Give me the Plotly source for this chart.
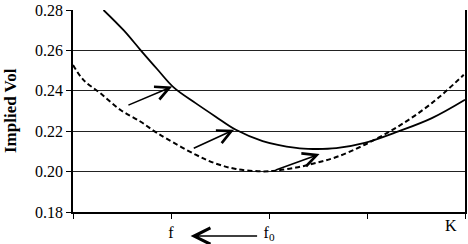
import plotly.graph_objects as go

# Solid smile (after the move)
solid_x = [0.311, 0.516, 0.687, 0.858, 1.027, 1.251, 1.456, 1.662, 1.935, 2.277, 2.448, 2.687, 2.977, 3.320, 3.662, 4.0]
solid_y = [0.2800, 0.2700, 0.2603, 0.2508, 0.2417, 0.2339, 0.2272, 0.2207, 0.2151, 0.2117, 0.2112, 0.2116, 0.2142, 0.2199, 0.2265, 0.2356]

# Dashed smile (initial)
dash_x = [0.0, 0.106, 0.277, 0.482, 0.687, 0.824, 0.944, 1.251, 1.456, 1.662, 1.935, 2.072, 2.277, 2.482, 2.687, 2.977, 3.320, 3.662, 3.987]
dash_y = [0.2528, 0.2454, 0.2389, 0.2306, 0.2248, 0.2202, 0.2166, 0.2084, 0.2040, 0.2013, 0.2001, 0.2005, 0.2020, 0.2043, 0.2072, 0.2133, 0.2224, 0.2339, 0.2479]

# Arrows (tail -> head) in data units
arr_tail_x = [0.55, 1.217, 2.054]
arr_tail_y = [0.2326, 0.2112, 0.2005]
arr_head_x = [1.012, 1.644, 2.516]
arr_head_y = [0.2421, 0.2207, 0.2087]

y_ticks = [0.18, 0.20, 0.22, 0.24, 0.26, 0.28]
y_ticktext = ["0.18", "0.20", "0.22", "0.24", "0.26", "0.28"]
x_ticks = [0, 1, 2, 3, 4]
x_ticktext = ["", "f", "f<sub>0</sub>", "", ""]
y_title = "<b>Implied Vol</b>"

font = "Liberation Serif"

fig = go.Figure()
fig.add_trace(go.Scatter(x=dash_x, y=dash_y, mode="lines", line_shape="spline",
                         line=dict(color="black", width=2, dash="5px,3px"), hoverinfo="skip"))
fig.add_trace(go.Scatter(x=solid_x, y=solid_y, mode="lines", line_shape="spline",
                         line=dict(color="black", width=1.8), hoverinfo="skip"))

for tx, ty, hx, hy in zip(arr_tail_x, arr_tail_y, arr_head_x, arr_head_y):
    fig.add_annotation(x=hx, y=hy, ax=tx, ay=ty, xref="x", yref="y", axref="x", ayref="y",
                       showarrow=True, arrowhead=5, arrowsize=1.7, arrowwidth=1.6,
                       arrowcolor="black", text="")

# f0 -> f arrow below the axis
fig.add_annotation(x=1.2, y=-0.119, ax=68, ay=0, xref="x", yref="paper",
                   axref="pixel", ayref="pixel", showarrow=True, arrowhead=5, arrowsize=2.0,
                   arrowwidth=1.6, arrowcolor="black", text="")
fig.add_annotation(x=3.86, y=-0.119, xref="x", yref="paper", text="K", showarrow=False,
                   font=dict(family=font, size=16, color="black"))

# y-axis title placed as rotated annotation
fig.add_annotation(x=0, y=0.5, xref="paper", yref="paper", xshift=-63, text=y_title,
                   textangle=-90, showarrow=False, xanchor="center", yanchor="middle",
                   font=dict(family=font, size=17, color="black"))

fig.update_layout(
    width=468, height=244,
    margin=dict(l=73, r=3, t=10, b=32),
    paper_bgcolor="white", plot_bgcolor="white",
    showlegend=False,
    font=dict(family=font, size=16, color="black"),
    xaxis=dict(range=[0, 4], tickvals=x_ticks, ticktext=x_ticktext, showgrid=False,
               showline=True, linecolor="black", linewidth=1.5, ticks="outside",
               ticklen=5, tickcolor="black", tickwidth=1.2, zeroline=False,
               automargin=False,
               tickfont=dict(family=font, size=16, color="black")),
    yaxis=dict(range=[0.18, 0.28], tickvals=y_ticks, ticktext=y_ticktext,
               showgrid=True, gridcolor="#222", gridwidth=1, showline=True,
               linecolor="black", linewidth=1.5, mirror=True, ticks="outside",
               ticklen=5, tickcolor="black", tickwidth=1.2, zeroline=False,
               automargin=False,
               tickfont=dict(family=font, size=16, color="black")),
)

fig.write_html("out.html")
